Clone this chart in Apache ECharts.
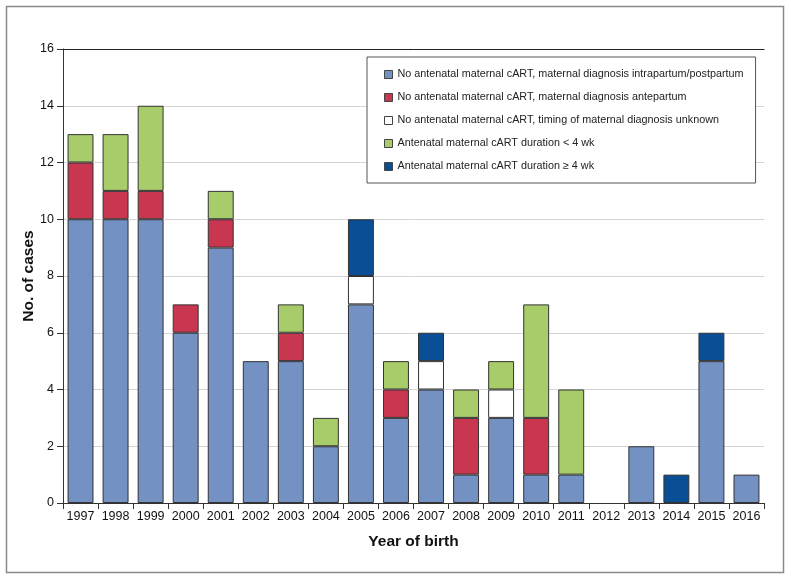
<!DOCTYPE html>
<html><head><meta charset="utf-8">
<script src="https://cdn.jsdelivr.net/npm/echarts@6/dist/echarts.min.js"></script>
<style>html,body{margin:0;padding:0;background:#fff}#c{width:791px;height:579px}</style>
</head><body><div id="c"></div>
<script>
const years = ['1997','1998','1999','2000','2001','2002','2003','2004','2005','2006','2007','2008','2009','2010','2011','2012','2013','2014','2015','2016'];
const intraPost = [10,10,10,6,9,5,5,2,7,3,4,1,3,1,1,0,2,0,5,1];
const antepartum = [2,1,1,1,1,0,1,0,0,1,0,2,0,2,0,0,0,0,0,0];
const unknownTiming = [0,0,0,0,0,0,0,0,1,0,1,0,1,0,0,0,0,0,0,0];
const cartLt4 = [1,2,3,0,1,0,1,1,0,1,0,1,1,4,3,0,0,0,0,0];
const cartGe4 = [0,0,0,0,0,0,0,0,2,0,1,0,0,0,0,0,0,1,1,0];
const seriesNames = [
  'No antenatal maternal cART, maternal diagnosis intrapartum/postpartum',
  'No antenatal maternal cART, maternal diagnosis antepartum',
  'No antenatal maternal cART, timing of maternal diagnosis unknown',
  'Antenatal maternal cART duration < 4 wk',
  'Antenatal maternal cART duration \u2265 4 wk'
];
const colors = ['#7391c2','#c9364f','#ffffff','#a8cc6a','#0a4f95'];
const data = [intraPost, antepartum, unknownTiming, cartLt4, cartGe4];
const chart = echarts.init(document.getElementById('c'));
const font = 'Liberation Sans, Arial, sans-serif';
chart.setOption({
  animation:false,
  textStyle:{fontFamily:font},
  graphic:[{type:'rect',shape:{x:6.5,y:6.5,width:777,height:566},style:{fill:'none',stroke:'#8a8a8a',lineWidth:1.5},silent:true}],
  grid:{left:63,right:27,top:49,bottom:76},
  legend:{
    orient:'vertical', left:367, top:57,
    data:seriesNames,
    itemWidth:8,itemHeight:8,itemGap:10,
    icon:'rect',
    padding:[11,12,10,17],
    borderColor:'#555',borderWidth:1,backgroundColor:'#fff',
    textStyle:{fontFamily:font,fontSize:10.8,color:'#222',lineHeight:13},
    itemStyle:{borderColor:'#444',borderWidth:1}
  },
  xAxis:[{
    type:'category',data:years,
    axisLine:{lineStyle:{color:'#333'}},
    axisTick:{show:true,length:6,lineStyle:{color:'#333'}},
    axisLabel:{color:'#111',fontSize:12.5,margin:7,interval:0,fontFamily:font},
    name:'Year of birth',nameLocation:'middle',nameGap:31,nameMoveOverlap:false,
    nameTextStyle:{fontSize:15.5,fontWeight:'bold',color:'#111',fontFamily:font}
  },{
    type:'category',data:years,position:'top',
    axisLine:{show:true,lineStyle:{color:'#222'}},axisTick:{show:false},axisLabel:{show:false}
  }],
  yAxis:{
    type:'value',min:0,max:16,interval:2,
    axisLine:{show:true,lineStyle:{color:'#333'}},
    axisTick:{show:true,length:6,lineStyle:{color:'#333'}},
    axisLabel:{color:'#111',fontSize:12.5,margin:9,fontFamily:font},
    splitLine:{lineStyle:{color:'#d4d4d4',width:1}},
    name:'No. of cases',nameLocation:'middle',nameGap:26,nameMoveOverlap:false,
    nameTextStyle:{fontSize:15.5,fontWeight:'bold',color:'#111',fontFamily:font}
  },
  series:data.map((d,i)=>({
    name:seriesNames[i],type:'bar',stack:'s',data:d.map(v=>v===0?null:v),
    barWidth:'74%',
    itemStyle:{color:colors[i],borderColor:'#333',borderWidth:1}
  }))
});
</script></body></html>
